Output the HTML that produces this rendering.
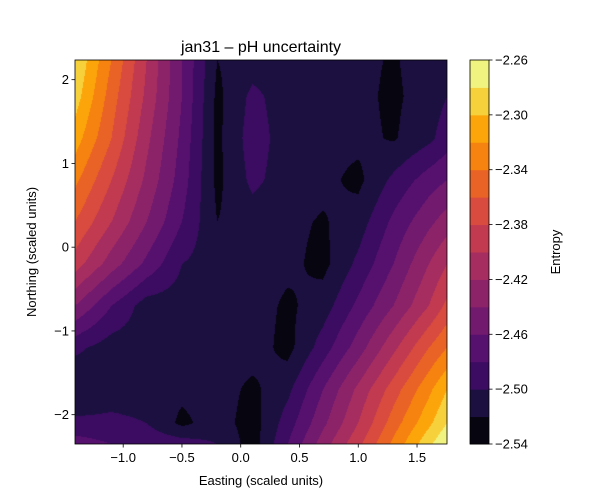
<!DOCTYPE html>
<html><head><meta charset="utf-8">
<style>
body{margin:0;background:#fff;width:600px;height:500px;overflow:hidden;font-family:"Liberation Sans",sans-serif;}
#wrap{position:relative;width:600px;height:500px;}
</style></head>
<body>
<div id="wrap">
<canvas id="cv" width="372" height="384" style="position:absolute;left:75px;top:60px;"></canvas>
<svg id="sv" width="600" height="500" style="position:absolute;left:0;top:0;"></svg>
</div>
<script>
// data
const xNodes = [-1.41,-1.1,-0.8,-0.5,-0.2,0.1,0.4,0.7,1.0,1.3,1.6,1.755];
const yNodes = [2.24,1.8,1.3,0.8,0.3,-0.2,-0.7,-1.2,-1.7,-2.1,-2.35];
const row0 = [-2.28,-2.34,-2.40,-2.46,-2.52,-2.51,-2.51,-2.51,-2.515,-2.522,-2.51,-2.505];
const row1 = [-2.29,-2.35,-2.405,-2.46,-2.525,-2.495,-2.51,-2.51,-2.515,-2.524,-2.51,-2.50];
const row2 = [-2.31,-2.36,-2.415,-2.465,-2.525,-2.49,-2.51,-2.515,-2.515,-2.522,-2.505,-2.49];
const row3 = [-2.335,-2.38,-2.425,-2.47,-2.525,-2.495,-2.51,-2.515,-2.525,-2.495,-2.47,-2.46];
const row4 = [-2.36,-2.40,-2.44,-2.48,-2.52,-2.51,-2.515,-2.522,-2.51,-2.475,-2.445,-2.43];
const row5 = [-2.39,-2.43,-2.465,-2.50,-2.51,-2.51,-2.515,-2.526,-2.495,-2.46,-2.42,-2.40];
const row6 = [-2.44,-2.48,-2.51,-2.51,-2.515,-2.51,-2.524,-2.51,-2.475,-2.44,-2.40,-2.375];
const row7 = [-2.495,-2.51,-2.51,-2.51,-2.515,-2.51,-2.527,-2.49,-2.45,-2.405,-2.36,-2.34];
const row8 = [-2.52,-2.51,-2.51,-2.515,-2.51,-2.525,-2.505,-2.46,-2.415,-2.37,-2.325,-2.30];
const row9 = [-2.495,-2.495,-2.50,-2.525,-2.51,-2.53,-2.49,-2.445,-2.40,-2.35,-2.305,-2.28];
const row10 = [-2.47,-2.48,-2.485,-2.49,-2.50,-2.53,-2.48,-2.43,-2.385,-2.335,-2.285,-2.26];
const grid = [row0,row1,row2,row3,row4,row5,row6,row7,row8,row9,row10];
const levels = [-2.54,-2.52,-2.50,-2.48,-2.46,-2.44,-2.42,-2.40,-2.38,-2.36,-2.34,-2.32,-2.30,-2.28,-2.26];
const bandColors = ["#07050f","#1c1041","#3b0c61","#56106e","#721a6e","#8c2369","#a62d60","#c13a50","#d84b3e","#ea6326","#f6820f","#fca50a","#f7d13c","#f0f37f"];
const xTicks = [-1.0,-0.5,0.0,0.5,1.0,1.5];
const yTicks = [-2,-1,0,1,2];
const cbTicks = [-2.54,-2.50,-2.46,-2.42,-2.38,-2.34,-2.30,-2.26];

const PL=75,PT=60,PW=372,PH=384;
const xMin=-1.41,xMax=1.755,yMin=-2.35,yMax=2.235;
const sx=v=>PL+(v-xMin)/(xMax-xMin)*PW;
const sy=v=>PT+(yMax-v)/(yMax-yMin)*PH;
const CBX=470,CBW=19,CBT=60,CBH=384;
const cy=v=>CBT+(levels[levels.length-1]-v)/(levels[levels.length-1]-levels[0])*CBH;

function seg(arr,v){let i=0;while(i<arr.length-2&&(arr[1]>arr[0]?v>arr[i+1]:v<arr[i+1]))i++;return i;}
function val(x,y){
  let i=seg(xNodes,x), j=seg(yNodes,y);
  let tx=(x-xNodes[i])/(xNodes[i+1]-xNodes[i]); tx=Math.max(0,Math.min(1,tx));
  let ty=(y-yNodes[j])/(yNodes[j+1]-yNodes[j]); ty=Math.max(0,Math.min(1,ty));
  const a=grid[j][i],b=grid[j][i+1],c=grid[j+1][i],d=grid[j+1][i+1];
  return a*(1-tx)*(1-ty)+b*tx*(1-ty)+c*(1-tx)*ty+d*tx*ty;
}
function hex(h){return [parseInt(h.substr(1,2),16),parseInt(h.substr(3,2),16),parseInt(h.substr(5,2),16)];}
const rgb=bandColors.map(hex);
const cv=document.getElementById('cv'),ctx=cv.getContext('2d');
const img=ctx.createImageData(PW,PH);
for(let py=0;py<PH;py++)for(let px=0;px<PW;px++){
  const x=xMin+(px+0.5)/PW*(xMax-xMin), y=yMax-(py+0.5)/PH*(yMax-yMin);
  const v=val(x,y);
  let k=Math.floor((v-levels[0])/0.02); k=Math.max(0,Math.min(bandColors.length-1,k));
  const c=rgb[k],o=(py*PW+px)*4;
  img.data[o]=c[0];img.data[o+1]=c[1];img.data[o+2]=c[2];img.data[o+3]=255;
}
ctx.putImageData(img,0,0);

const NS="http://www.w3.org/2000/svg",sv=document.getElementById('sv');
function mk(t,a,txt){const e=document.createElementNS(NS,t);for(const k in a)e.setAttribute(k,a[k]);if(txt!==undefined)e.textContent=txt;sv.appendChild(e);return e;}
const fmt=v=>(v<0?"\u2212":"")+Math.abs(v).toFixed(1);
let e=mk('rect',{x:PL,y:PT,width:PW,height:PH,fill:'none',stroke:'#000','stroke-width':0.8});

xTicks.forEach(t=>{
  const x=sx(t);
  let l=mk('line',{x1:x,x2:x,y1:PT+PH,y2:PT+PH+3.5,stroke:'#000','stroke-width':0.8});
  
  let s=mk('text',{x:x,y:PT+PH+18,'text-anchor':'middle','font-size':13,fill:'#000'},fmt(t));
  
});
yTicks.forEach(t=>{
  const y=sy(t);
  let l=mk('line',{x1:PL-3.5,x2:PL,y1:y,y2:y,stroke:'#000','stroke-width':0.8});
  
  let s=mk('text',{x:PL-6,y:y+4.5,'text-anchor':'end','font-size':13,fill:'#000'},(t<0?"\u2212":"")+Math.abs(t));
  
});
bandColors.forEach((c,i)=>{
  const y1=cy(levels[i+1]),y2=cy(levels[i]);
  let r=mk('rect',{x:CBX,y:y1,width:CBW,height:y2-y1+0.5,fill:c});
  
});
e=mk('rect',{x:CBX,y:CBT,width:CBW,height:CBH,fill:'none',stroke:'#000','stroke-width':0.8});

cbTicks.forEach(t=>{
  const y=cy(t);
  let l=mk('line',{x1:CBX+CBW,x2:CBX+CBW+3.5,y1:y,y2:y,stroke:'#000','stroke-width':0.8});
  
  let s=mk('text',{x:CBX+CBW+6,y:y+4.5,'font-size':13,fill:'#000'},"\u2212"+Math.abs(t).toFixed(2));
  
});
e=mk('text',{x:261,y:52,'text-anchor':'middle','font-size':16,fill:'#000'},"jan31 \u2013 pH uncertainty");

e=mk('text',{x:261,y:485,'text-anchor':'middle','font-size':13,fill:'#000'},"Easting (scaled units)");

e=mk('text',{x:0,y:0,'text-anchor':'middle','font-size':13,fill:'#000',transform:'translate(36,252) rotate(-90)'},"Northing (scaled units)");

e=mk('text',{x:0,y:0,'text-anchor':'middle','font-size':13,fill:'#000',transform:'translate(560,252) rotate(-90)'},"Entropy");

</script>
</body></html>
